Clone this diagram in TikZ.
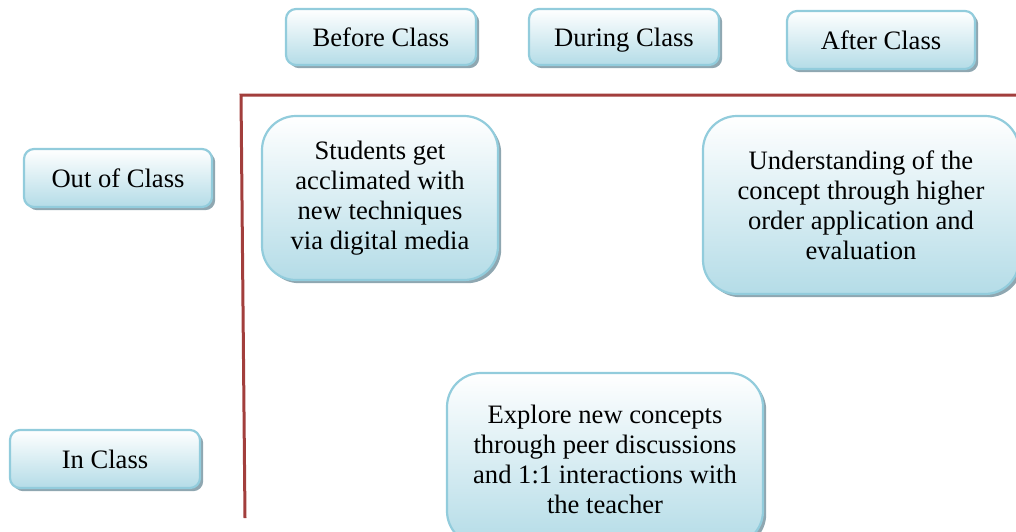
\documentclass[tikz,border=0pt]{standalone}
\usepackage{fontspec}
\setmainfont{Liberation Serif}
\usetikzlibrary{shadows}
\definecolor{bordc}{HTML}{92CCDC}
\definecolor{fillc}{HTML}{B4DCE7}
\definecolor{shadowc}{HTML}{8FA7B1}
\definecolor{redc}{HTML}{A23E3C}
\newcommand{\boxstrut}{\rule[-2.2pt]{0pt}{14.2pt}}
\tikzset{
  box/.style={draw=bordc, line width=1.1pt, top color=white, bottom color=fillc,
    align=center, inner sep=0pt, font=\fontsize{13.3}{15}\selectfont,
    drop shadow={shadow xshift=1.6pt, shadow yshift=-1.6pt, fill=shadowc, opacity=1}},
  smallbox/.style={box, rounded corners=5pt, minimum width=95pt, minimum height=28pt,
    execute at begin node=\boxstrut},
  bigbox/.style={box, rounded corners=17pt},
  axisline/.style={draw=redc, line width=1.5pt}
}
\begin{document}
\begin{tikzpicture}[x=0.5pt,y=-0.5pt]
\useasboundingbox (0,0) rectangle (1016,531);
\clip (0,0) rectangle (1016,531);
% axes
\coordinate (ctop) at (241,95);
\coordinate (cbot) at (245,518);
\coordinate (cright) at (1020,95);
\draw[axisline] (cbot) -- (ctop) -- (cright);
% column headers
\node[smallbox] (before) at (381,37) {Before Class};
\node[smallbox] (during) at (624,37) {During Class};
\node[smallbox, minimum height=29pt, minimum width=94pt] (after) at (881,40) {After Class};
% row headers
\node[smallbox, minimum width=94pt, minimum height=29pt] (out) at (118,178) {Out of Class};
\node[smallbox, minimum height=29pt] (in) at (105,459) {In Class};
% content
\node[bigbox, minimum width=118pt, minimum height=82pt] (students) at (380,198)
  {Students get\\acclimated with\\new techniques\\via digital media};
\node[bigbox, minimum width=158pt, minimum height=89pt] (underst) at (861,205)
  {Understanding of the\\concept through higher\\order application and\\evaluation};
\node[bigbox, minimum width=158pt, minimum height=86pt] (explore) at (605,459)
  {Explore new concepts\\through peer discussions\\and 1:1 interactions with\\the teacher};
\end{tikzpicture}
\end{document}
